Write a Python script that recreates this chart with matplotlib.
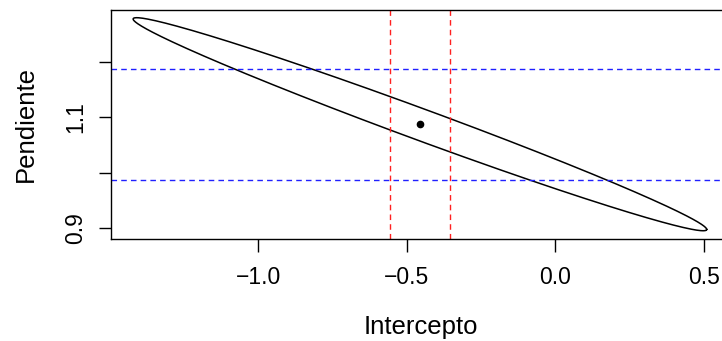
import numpy as np
import matplotlib.pyplot as plt

plt.rcParams['font.family'] = ['Liberation Sans', 'DejaVu Sans']

# estimated coefficients (intercept, slope) and the joint-region shape matrix
coef = [-0.455, 1.0875]
shape = [[0.9322, -0.183],
         [-0.183, 0.03684]]
# individual confidence intervals
ic_intercepto = [-0.555, -0.355]
ic_pendiente = [0.987, 1.187]

xticks = [-1.0, -0.5, 0.0, 0.5]
xlabels = ['\u22121.0', '\u22120.5', '0.0', '0.5']
yticks = [0.9, 1.0, 1.1, 1.2]
ylabels = ['0.9', '', '1.1', '']

# ellipse boundary from the Cholesky factor of the shape matrix
t = np.linspace(0, 2 * np.pi, 400)
L = np.linalg.cholesky(np.array(shape))
pts = L @ np.vstack((np.cos(t), np.sin(t)))
ex = coef[0] + pts[0]
ey = coef[1] + pts[1]

fig = plt.figure(figsize=(7.22, 3.41), dpi=100)
ax = fig.add_axes([111 / 722, 102 / 341, 619 / 722, 229 / 341])

ax.plot(ex, ey, color='black', lw=1.1)
ax.plot(coef[0], coef[1], 'o', color='black', ms=4.5)
for v in ic_intercepto:
    ax.axvline(v, color='#ff2020', lw=1.0, ls=(0, (4, 3)))
for v in ic_pendiente:
    ax.axhline(v, color='#2020ff', lw=1.0, ls=(0, (4, 3)))

ax.set_xlim(-1.495, 0.589)
ax.set_ylim(0.8807, 1.2933)

ax.set_xticks(xticks)
ax.set_xticklabels(xlabels, fontsize=16.5)
ax.set_yticks(yticks)
ax.set_yticklabels(ylabels, fontsize=16.5, rotation=90, va='center')
ax.tick_params(length=9, width=1)
ax.tick_params(axis='x', pad=10.5)
ax.tick_params(axis='y', pad=8)

for s in ax.spines.values():
    s.set_linewidth(1.0)

ax.set_xlabel('Intercepto', fontsize=18.5, labelpad=19)
ax.set_ylabel('Pendiente', fontsize=18.5, labelpad=19)

fig.savefig('out.png', dpi=100)
